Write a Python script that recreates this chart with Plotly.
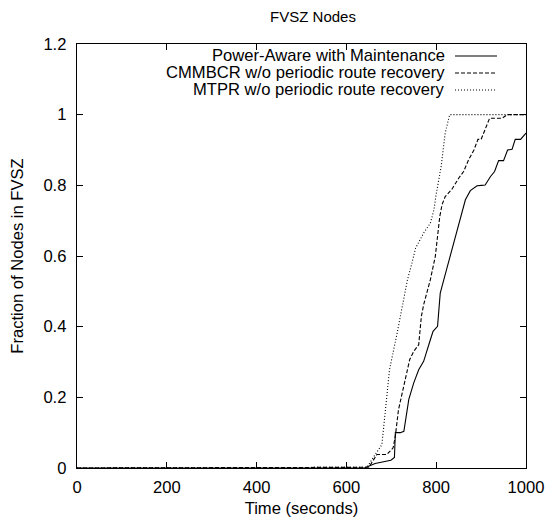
import plotly.graph_objects as go

# ---- data ----
pa_t = [0, 640, 664, 683, 699, 707, 709, 720, 728, 739, 750, 761, 772, 787, 793, 803, 809, 817,
        865, 876, 891, 901, 909, 921, 930, 939, 950, 959, 969, 976, 988, 1000]
pa_v = [0, 0, 0.013, 0.019, 0.022, 0.03, 0.1, 0.1, 0.104, 0.194, 0.241, 0.278, 0.302, 0.363, 0.387, 0.401, 0.495, 0.533,
        0.759, 0.785, 0.799, 0.8, 0.801, 0.825, 0.839, 0.87, 0.87, 0.9, 0.902, 0.93, 0.93, 0.948]

cm_t = [0, 645, 650, 668, 690, 704, 709, 716, 730, 735, 741, 750, 761, 767, 772, 787, 798, 808, 813,
        820, 835, 850, 861, 872, 884, 893, 900, 919, 947, 958, 1000]
cm_v = [0, 0, 0.002, 0.038, 0.038, 0.057, 0.09, 0.165, 0.25, 0.278, 0.307, 0.33, 0.349, 0.429, 0.462, 0.533, 0.599, 0.712, 0.745,
        0.768, 0.789, 0.82, 0.839, 0.872, 0.9, 0.93, 0.93, 0.99, 0.99, 1.0, 1.0]

mt_t = [0, 640, 646, 664, 679, 687, 696, 713, 724, 731, 736, 746, 754, 772, 787, 795, 800, 811, 820, 830, 1000]
mt_v = [0, 0, 0.002, 0.038, 0.066, 0.165, 0.278, 0.382, 0.457, 0.505, 0.533, 0.58, 0.622, 0.665, 0.693, 0.731, 0.775, 0.853, 0.948, 1.0, 1.0]

series_names = ["Power-Aware with Maintenance",
                "CMMBCR w/o periodic route recovery",
                "MTPR w/o periodic route recovery"]
x_ticks = [0, 200, 400, 600, 800, 1000]
y_ticks = [0, 0.2, 0.4, 0.6, 0.8, 1, 1.2]
y_tick_text = ["0", "0.2", "0.4", "0.6", "0.8", "1", "1.2"]

FONT = "Liberation Sans, Arial, sans-serif"
FS = 16.6
dashes = ["solid", "4px,2px", "1px,2px"]
series = [(pa_t, pa_v), (cm_t, cm_v), (mt_t, mt_v)]

fig = go.Figure()
for (t, v), name, d in zip(series, series_names, dashes):
    fig.add_trace(go.Scatter(x=t, y=v, mode="lines", name=name,
                             line=dict(color="black", width=1.1, dash=d),
                             showlegend=False, hoverinfo="skip"))

W, H = 545, 522
L, R, T, B = 77, 526, 44, 468.5
def px(xp):
    return (xp - L) / (R - L)
def py(yp):
    return (B - yp) / (B - T)

# gnuplot-style legend: right-aligned text with line sample on the right
rows_y = [56, 73, 90]
for name, d, ry in zip(series_names, dashes, rows_y):
    fig.add_annotation(x=px(447), y=py(ry), xref="paper", yref="paper",
                       text=name, showarrow=False, xanchor="right", yanchor="middle",
                       font=dict(family=FONT, size=FS, color="black"))
    fig.add_shape(type="line", xref="paper", yref="paper",
                  x0=px(455), x1=px(497), y0=py(ry), y1=py(ry),
                  line=dict(color="black", width=1.1, dash=d))

axis_common = dict(showline=True, linecolor="black", linewidth=1.2, mirror="ticks",
                   ticks="inside", ticklen=6, tickcolor="black", tickwidth=1,
                   showgrid=False, zeroline=False, automargin=False,
                   tickfont=dict(family=FONT, size=FS, color="black"))

fig.update_layout(
    width=W, height=H,
    margin=dict(l=L, r=W - R, t=T, b=H - B),
    paper_bgcolor="white", plot_bgcolor="white",
    title=dict(text="FVSZ Nodes", x=px(313), xref="paper", xanchor="center",
               y=1 - 17 / H, yanchor="middle",
               font=dict(family=FONT, size=15, color="black")),
    xaxis=dict(range=[0, 1000], tickvals=x_ticks,
               title=dict(text="Time (seconds)", standoff=6,
                          font=dict(family=FONT, size=FS, color="black")),
               ticklabelstandoff=4, **axis_common),
    yaxis=dict(range=[0, 1.2], tickvals=y_ticks, ticktext=y_tick_text,
               title=dict(text="Fraction of Nodes in FVSZ", standoff=15,
                          font=dict(family=FONT, size=FS, color="black")),
               ticklabelstandoff=6, **axis_common),
)

fig.write_html("out.html", config={"displayModeBar": False, "staticPlot": True},
               post_script="document.body.style.margin='0';document.body.style.overflow='hidden';")
